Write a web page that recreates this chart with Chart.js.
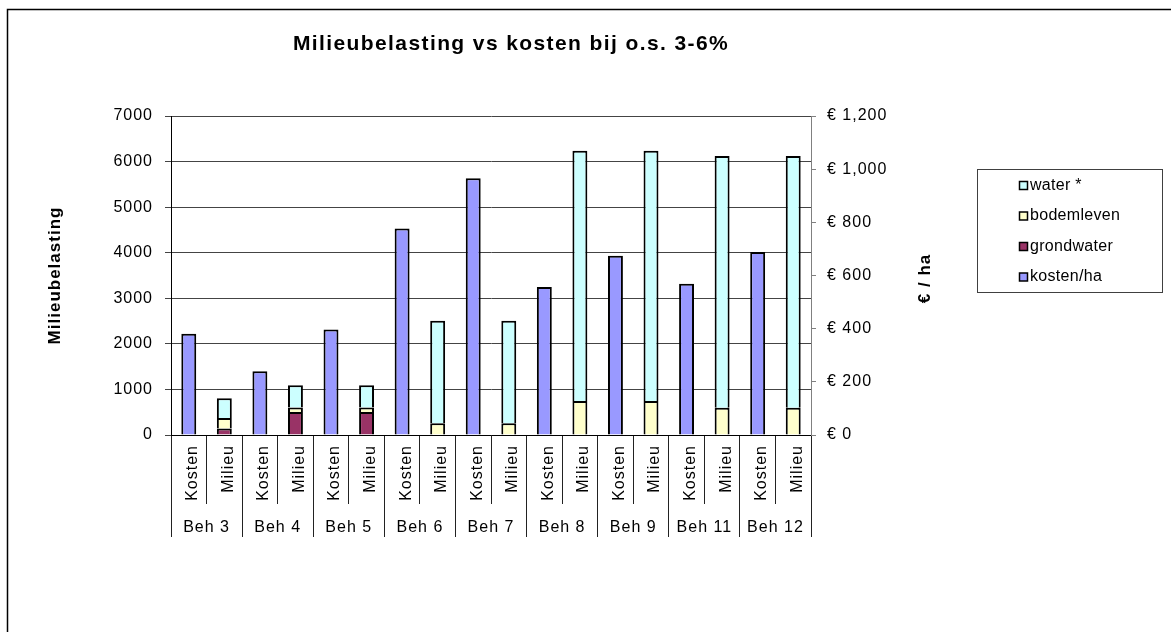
<!DOCTYPE html>
<html lang="nl">
<head>
<meta charset="UTF-8">
<title>Milieubelasting vs kosten bij o.s. 3-6%</title>
<script src="https://cdn.jsdelivr.net/npm/chart.js"></script>
<style>
  html, body { margin: 0; padding: 0; background: #fff; }
  canvas { display: block; }
</style>
</head>
<body>
<canvas id="milieuChart" width="1171" height="632"></canvas>
<script>
// behandelingen, elk met een kosten- en een milieustaaf
const behandelingen = ['Beh 3', 'Beh 4', 'Beh 5', 'Beh 6', 'Beh 7', 'Beh 8', 'Beh 9', 'Beh 11', 'Beh 12'];
const staafLabels = ['Kosten', 'Milieu'];

// kosten in euro per ha (rechter as)
const kostenPerHa = [381, 240, 397, 777, 966, 557, 674, 569, 688];

// milieubelasting (linker as), gestapeld
const grondwater = [140, 505, 505, null, null, null, null, null, null];
const bodemleven = [235, 100, 100, 260, 260, 745, 745, 600, 600];
const water = [430, 485, 485, 2245, 2245, 5490, 5490, 5525, 5525];

// asbereik en stapgrootte
const milieuMax = 7000, milieuStap = 1000;
const euroMax = 1200, euroStap = 200;

const lettertype = '"Liberation Sans", Arial, sans-serif';
Chart.defaults.font.family = lettertype;
Chart.defaults.color = '#000';

// per behandeling: eerst de kostenstaaf, dan de milieustaaf
const categorieen = behandelingen.flatMap(() => staafLabels);
const opKosten = arr => arr.flatMap(v => [v, null]);
const opMilieu = arr => arr.flatMap(v => [null, v]);

const staafStijl = {
    borderColor: '#000',
    borderWidth: 2,
    barPercentage: 0.42,
    categoryPercentage: 1,
    stack: 'staaf',
    xAxisID: 'x'
};

// kader, titel, rechter astitel en legenda
const tekenPlugin = {
    id: 'tekenPlugin',
    beforeLayout(chart) {
        chart.ctx.letterSpacing = '1px';
    },
    beforeDraw(chart) {
        const ctx = chart.ctx;
        ctx.save();
        ctx.fillStyle = '#fff';
        ctx.fillRect(0, 0, chart.width, chart.height);
        ctx.strokeStyle = '#000';
        ctx.lineWidth = 1.5;
        ctx.beginPath();
        ctx.moveTo(7.5, chart.height);
        ctx.lineTo(7.5, 9.5);
        ctx.lineTo(chart.width, 9.5);
        ctx.stroke();
        ctx.restore();
        ctx.letterSpacing = '1px';
    },
    afterDraw(chart) {
        const ctx = chart.ctx;
        const area = chart.chartArea;

        // titel
        ctx.save();
        ctx.letterSpacing = '1.4px';
        ctx.font = 'bold 21px ' + lettertype;
        ctx.fillStyle = '#000';
        ctx.textAlign = 'center';
        ctx.textBaseline = 'alphabetic';
        ctx.fillText('Milieubelasting vs kosten bij o.s. 3-6%', 511, 50);
        ctx.restore();

        // titel van de rechter as, van onder naar boven
        const y2 = chart.scales.y2;
        ctx.save();
        ctx.letterSpacing = '1px';
        ctx.font = 'bold 17px ' + lettertype;
        ctx.fillStyle = '#000';
        ctx.translate(y2.left + 114, (area.top + area.bottom) / 2 + 3);
        ctx.rotate(-Math.PI / 2);
        ctx.textAlign = 'center';
        ctx.textBaseline = 'middle';
        ctx.fillText('€ / ha', 0, 0);
        ctx.restore();

        // legenda in omgekeerde volgorde
        const items = chart.data.datasets.slice().reverse();
        ctx.save();
        ctx.lineWidth = 1;
        ctx.strokeStyle = '#404040';
        ctx.strokeRect(977.5, 169.5, 185, 123);
        ctx.font = '16px ' + lettertype;
        ctx.letterSpacing = '0.3px';
        ctx.textBaseline = 'middle';
        items.forEach((ds, i) => {
            const y = 185.5 + i * 30.5;
            ctx.fillStyle = ds.backgroundColor;
            ctx.fillRect(1019.5, y - 4, 8, 8);
            ctx.strokeStyle = '#000';
            ctx.lineWidth = 1.5;
            ctx.strokeRect(1019.5, y - 4, 8, 8);
            ctx.fillStyle = '#000';
            ctx.fillText(ds.label, 1030, y);
        });
        ctx.restore();
    }
};

const ctx = document.getElementById('milieuChart').getContext('2d');
new Chart(ctx, {
    type: 'bar',
    data: {
        labels: categorieen,
        datasets: [
            { ...staafStijl, label: 'kosten/ha', data: opKosten(kostenPerHa), backgroundColor: '#9999FF', yAxisID: 'y2' },
            { ...staafStijl, label: 'grondwater', data: opMilieu(grondwater), backgroundColor: '#993366', yAxisID: 'y' },
            { ...staafStijl, label: 'bodemleven', data: opMilieu(bodemleven), backgroundColor: '#FFFFCC', yAxisID: 'y' },
            { ...staafStijl, label: 'water *', data: opMilieu(water), backgroundColor: '#CCFFFF', yAxisID: 'y' }
        ]
    },
    options: {
        responsive: false,
        animation: false,
        layout: { padding: { left: 20, right: 171, top: 116, bottom: 95 } },
        plugins: {
            legend: { display: false },
            title: { display: false },
            tooltip: { enabled: false }
        },
        scales: {
            x: {
                type: 'category',
                stacked: true,
                offset: true,
                grid: { offset: true, drawOnChartArea: false, tickLength: 69, color: '#222' },
                border: { color: '#000' },
                ticks: {
                    minRotation: 90, maxRotation: 90, autoSkip: false,
                    padding: -59, labelOffset: 4,
                    font: { size: 16 }
                },
                afterFit(scale) { scale.height = 66; }
            },
            x2: {
                type: 'category',
                labels: behandelingen,
                position: 'bottom',
                weight: 1,
                offset: true,
                grid: { offset: true, drawOnChartArea: false, tickLength: 36, color: '#222' },
                border: { display: false },
                ticks: { maxRotation: 0, autoSkip: false, padding: -19, font: { size: 16 } },
                afterFit(scale) { scale.height = 36; }
            },
            y: {
                position: 'left',
                stacked: true,
                min: 0,
                max: milieuMax,
                ticks: { stepSize: milieuStap, padding: 12, font: { size: 16 }, callback: v => String(v) },
                grid: { color: '#444', tickLength: 6 },
                border: { color: '#000' },
                title: {
                    display: true,
                    text: 'Milieubelasting',
                    font: { size: 17, weight: 'bold' },
                    padding: { top: 24.8, bottom: 0 }
                },
                afterFit(scale) { scale.width = 151; }
            },
            y2: {
                position: 'right',
                stacked: true,
                min: 0,
                max: euroMax,
                ticks: {
                    stepSize: euroStap, padding: 11, font: { size: 16 },
                    callback: v => '€ ' + v.toLocaleString('en-US')
                },
                grid: { drawOnChartArea: false, tickLength: 5, color: '#808080' },
                border: { color: '#808080' },
                afterFit(scale) { scale.width = 189; }
            }
        }
    },
    plugins: [tekenPlugin]
});
</script>
</body>
</html>
